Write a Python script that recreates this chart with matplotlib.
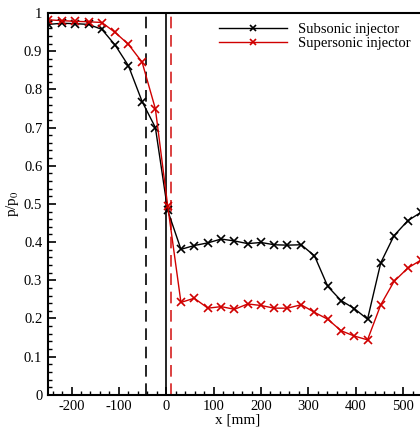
import matplotlib
matplotlib.use("Agg")
import matplotlib.pyplot as plt
from matplotlib.ticker import MultipleLocator

plt.rcParams["font.family"] = ["Liberation Serif", "DejaVu Serif"]
plt.rcParams["mathtext.fontset"] = "stix"
plt.rcParams["axes.unicode_minus"] = False

# wall pressure along x
x_mm = [-249, -221, -192, -164, -136, -108, -80, -51, -23, 3,
        31, 59, 88, 116, 144, 172, 200, 228, 256, 285,
        313, 341, 369, 397, 425, 453, 481, 510, 538]
p_subsonic = [0.970, 0.973, 0.972, 0.970, 0.957, 0.916, 0.862, 0.768, 0.700, 0.483,
              0.381, 0.391, 0.398, 0.408, 0.403, 0.396, 0.399, 0.393, 0.392, 0.393,
              0.364, 0.284, 0.247, 0.226, 0.198, 0.346, 0.417, 0.456, 0.478]
p_supersonic = [0.982, 0.980, 0.978, 0.977, 0.975, 0.949, 0.918, 0.871, 0.749, 0.495,
                0.242, 0.253, 0.227, 0.231, 0.224, 0.238, 0.234, 0.227, 0.227, 0.236,
                0.216, 0.198, 0.168, 0.154, 0.144, 0.236, 0.297, 0.332, 0.353]

# injector positions
x_sub_dash = -43
x_wall = 0
x_sup_dash = 10

fig = plt.figure(figsize=(4.2, 4.32), dpi=100)
ax = fig.add_axes([0.114, 0.086, 0.902, 0.884])

ax.axvline(x_sub_dash, color="black", lw=1.2, ls=(0, (7, 4)))
ax.axvline(x_wall, color="black", lw=1.2)
ax.axvline(x_sup_dash, color="#d62020", lw=1.2, ls=(0, (7, 4)))

ax.plot(x_mm, p_subsonic, color="black", lw=1.0, marker="x", ms=6, mew=1.2,
        label="Subsonic injector")
ax.plot(x_mm, p_supersonic, color="#d00000", lw=1.0, marker="x", ms=6, mew=1.2,
        label="Supersonic injector")

ax.set_xlim(-250, 550)
ax.set_ylim(0, 1)
ax.xaxis.set_major_locator(MultipleLocator(100))
ax.xaxis.set_minor_locator(MultipleLocator(20))
ax.yaxis.set_major_locator(MultipleLocator(0.1))
ax.yaxis.set_minor_locator(MultipleLocator(0.02))
ax.set_yticks([0, 0.1, 0.2, 0.3, 0.4, 0.5, 0.6, 0.7, 0.8, 0.9, 1.0],
              ["0", "0.1", "0.2", "0.3", "0.4", "0.5", "0.6", "0.7", "0.8", "0.9", "1"])
ax.tick_params(which="major", direction="in", length=6, width=1.2, labelsize=10.5,
               top=False, right=False, pad=4)
ax.tick_params(which="minor", direction="in", length=3, width=1.0, top=False, right=False)
for s in ax.spines.values():
    s.set_linewidth(1.5)

ax.set_xlabel("x [mm]", fontsize=11, labelpad=0)
ax.set_ylabel("p/p$_0$", fontsize=11, labelpad=2)

leg = ax.legend(loc="upper right", bbox_to_anchor=(0.985, 1.0), frameon=False, fontsize=10.5,
                handlelength=4.6, handletextpad=0.8, borderaxespad=0.3, labelspacing=0.05,
                numpoints=1, markerscale=0.8)

fig.savefig("out.png", dpi=100)
